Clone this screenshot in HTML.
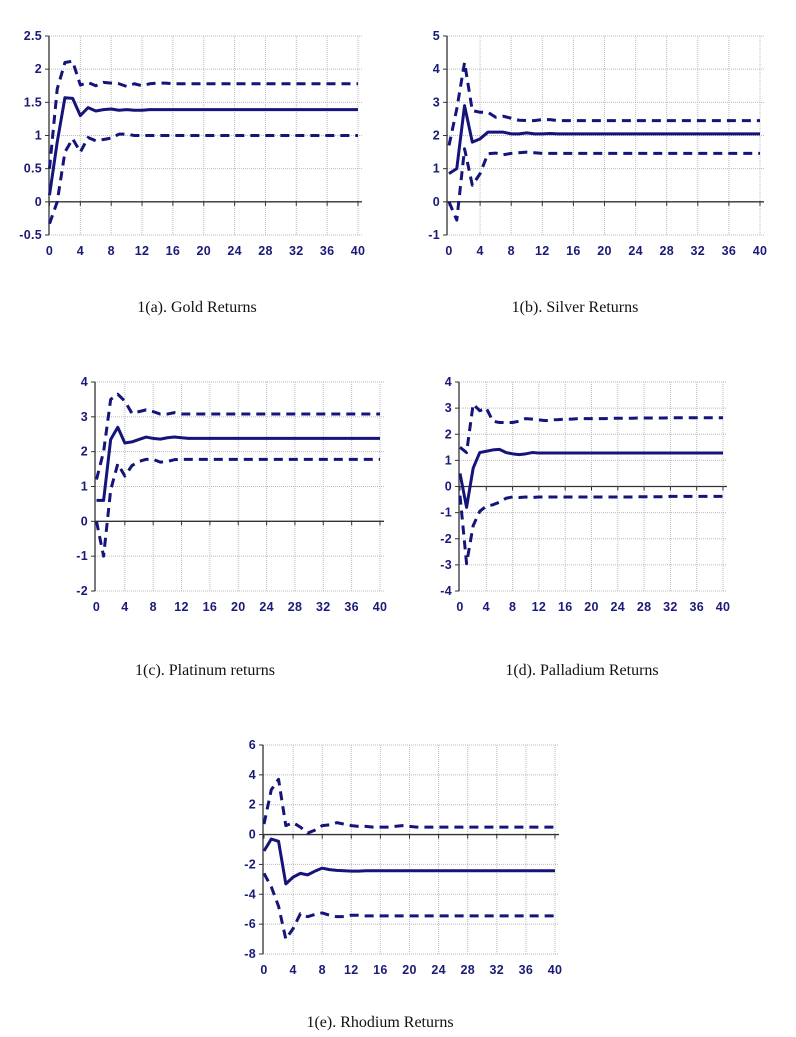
<!DOCTYPE html>
<html><head><meta charset="utf-8"><style>
html,body{margin:0;padding:0;background:#fff;}
svg{display:block;}
.tick{font-family:"Liberation Sans",sans-serif;font-weight:bold;font-size:12.5px;fill:#1a1a78;letter-spacing:0.3px;}
.title{font-family:"Liberation Serif",serif;font-size:16px;fill:#111;}
</style></head><body>
<svg id="fig" width="796" height="1037" viewBox="0 0 796 1037"></svg>
<script>
const horizon = [0,1,2,3,4,5,6,7,8,9,10,11,12,13,14,15,16,17,18,19,20,21,22,23,24,25,26,27,28,29,30,31,32,33,34,35,36,37,38,39,40];
const xTicks = [0,4,8,12,16,20,24,28,32,36,40];

const goldMid = [0.1,0.9,1.57,1.56,1.3,1.42,1.37,1.39,1.4,1.38,1.39,1.38,1.38,1.39,1.39,1.39,1.39,1.39,1.39,1.39,1.39,1.39,1.39,1.39,1.39,1.39,1.39,1.39,1.39,1.39,1.39,1.39,1.39,1.39,1.39,1.39,1.39,1.39,1.39,1.39,1.39];
const goldUp = [0.5,1.7,2.1,2.12,1.76,1.8,1.75,1.8,1.79,1.78,1.74,1.78,1.75,1.78,1.79,1.79,1.78,1.78,1.78,1.78,1.78,1.78,1.78,1.78,1.78,1.78,1.78,1.78,1.78,1.78,1.78,1.78,1.78,1.78,1.78,1.78,1.78,1.78,1.78,1.78,1.78];
const goldLo = [-0.33,0.0,0.75,0.95,0.75,0.97,0.92,0.94,0.96,1.02,1.02,1.0,1.0,1.0,1.0,1.0,1.0,1.0,1.0,1.0,1.0,1.0,1.0,1.0,1.0,1.0,1.0,1.0,1.0,1.0,1.0,1.0,1.0,1.0,1.0,1.0,1.0,1.0,1.0,1.0,1.0];
const goldTicks = [2.5,2,1.5,1,0.5,0,-0.5];

const silverMid = [0.85,1.0,2.9,1.8,1.9,2.1,2.1,2.1,2.05,2.05,2.08,2.05,2.05,2.06,2.05,2.05,2.05,2.05,2.05,2.05,2.05,2.05,2.05,2.05,2.05,2.05,2.05,2.05,2.05,2.05,2.05,2.05,2.05,2.05,2.05,2.05,2.05,2.05,2.05,2.05,2.05];
const silverUp = [1.7,2.8,4.2,2.75,2.7,2.7,2.55,2.58,2.52,2.46,2.45,2.45,2.48,2.48,2.45,2.45,2.45,2.45,2.45,2.45,2.45,2.45,2.45,2.45,2.45,2.45,2.45,2.45,2.45,2.45,2.45,2.45,2.45,2.45,2.45,2.45,2.45,2.45,2.45,2.45,2.45];
const silverLo = [0.0,-0.55,1.6,0.5,0.85,1.45,1.47,1.42,1.46,1.48,1.5,1.48,1.46,1.46,1.46,1.46,1.46,1.46,1.46,1.46,1.46,1.46,1.46,1.46,1.46,1.46,1.46,1.46,1.46,1.46,1.46,1.46,1.46,1.46,1.46,1.46,1.46,1.46,1.46,1.46,1.46];
const silverTicks = [5,4,3,2,1,0,-1];

const platMid = [0.6,0.6,2.35,2.7,2.25,2.28,2.35,2.42,2.38,2.36,2.4,2.42,2.4,2.38,2.38,2.38,2.38,2.38,2.38,2.38,2.38,2.38,2.38,2.38,2.38,2.38,2.38,2.38,2.38,2.38,2.38,2.38,2.38,2.38,2.38,2.38,2.38,2.38,2.38,2.38,2.38];
const platUp = [1.2,2.0,3.5,3.65,3.45,3.1,3.15,3.2,3.15,3.08,3.08,3.12,3.08,3.08,3.08,3.08,3.08,3.08,3.08,3.08,3.08,3.08,3.08,3.08,3.08,3.08,3.08,3.08,3.08,3.08,3.08,3.08,3.08,3.08,3.08,3.08,3.08,3.08,3.08,3.08,3.08];
const platLo = [0.0,-1.0,0.9,1.65,1.3,1.6,1.72,1.78,1.78,1.7,1.72,1.77,1.78,1.78,1.78,1.78,1.78,1.78,1.78,1.78,1.78,1.78,1.78,1.78,1.78,1.78,1.78,1.78,1.78,1.78,1.78,1.78,1.78,1.78,1.78,1.78,1.78,1.78,1.78,1.78,1.78];
const platTicks = [4,3,2,1,0,-1,-2];

const pallMid = [0.5,-0.8,0.7,1.3,1.35,1.4,1.42,1.3,1.25,1.22,1.25,1.3,1.28,1.28,1.28,1.28,1.28,1.28,1.28,1.28,1.28,1.28,1.28,1.28,1.28,1.28,1.28,1.28,1.28,1.28,1.28,1.28,1.28,1.28,1.28,1.28,1.28,1.28,1.28,1.28,1.28];
const pallUp = [1.5,1.3,3.15,2.9,3.0,2.5,2.45,2.45,2.45,2.5,2.6,2.58,2.55,2.52,2.55,2.56,2.58,2.58,2.6,2.6,2.6,2.6,2.6,2.61,2.61,2.61,2.61,2.62,2.62,2.62,2.62,2.62,2.63,2.63,2.63,2.63,2.63,2.63,2.63,2.63,2.63];
const pallLo = [-0.35,-2.95,-1.5,-0.95,-0.75,-0.7,-0.6,-0.45,-0.4,-0.42,-0.4,-0.42,-0.4,-0.4,-0.4,-0.4,-0.4,-0.4,-0.4,-0.4,-0.4,-0.4,-0.4,-0.4,-0.4,-0.4,-0.4,-0.39,-0.39,-0.39,-0.39,-0.39,-0.38,-0.38,-0.38,-0.38,-0.38,-0.38,-0.38,-0.38,-0.38];
const pallTicks = [4,3,2,1,0,-1,-2,-3,-4];

const rhoMid = [-1.1,-0.3,-0.45,-3.3,-2.85,-2.6,-2.7,-2.45,-2.25,-2.35,-2.4,-2.42,-2.45,-2.45,-2.42,-2.42,-2.42,-2.42,-2.42,-2.42,-2.42,-2.42,-2.42,-2.42,-2.42,-2.42,-2.42,-2.42,-2.42,-2.42,-2.42,-2.42,-2.42,-2.42,-2.42,-2.42,-2.42,-2.42,-2.42,-2.42,-2.42];
const rhoUp = [0.7,3.0,3.7,0.6,0.8,0.5,0.1,0.3,0.6,0.65,0.8,0.7,0.6,0.55,0.55,0.5,0.5,0.5,0.55,0.6,0.55,0.5,0.5,0.5,0.5,0.5,0.5,0.5,0.5,0.5,0.5,0.5,0.5,0.5,0.5,0.5,0.5,0.5,0.5,0.5,0.5];
const rhoLo = [-2.6,-3.5,-4.8,-7.0,-6.3,-5.3,-5.5,-5.35,-5.25,-5.4,-5.5,-5.5,-5.4,-5.4,-5.45,-5.45,-5.45,-5.45,-5.45,-5.45,-5.45,-5.45,-5.45,-5.45,-5.45,-5.45,-5.45,-5.45,-5.45,-5.45,-5.45,-5.45,-5.45,-5.45,-5.45,-5.45,-5.45,-5.45,-5.45,-5.45,-5.45];
const rhoTicks = [6,4,2,0,-2,-4,-6,-8];

const titles = ["1(a). Gold Returns","1(b). Silver Returns","1(c). Platinum returns","1(d). Palladium Returns","1(e). Rhodium Returns"];

const NS = "http://www.w3.org/2000/svg";
const svg = document.getElementById('fig');
const C = "#14147a";
function mk(tag, attrs, parent){
  const e = document.createElementNS(NS, tag);
  for (const k in attrs) e.setAttribute(k, attrs[k]);
  (parent||svg).appendChild(e);
  return e;
}

const panels = [
  {key:'gold', ax:49, x0:49.5, x40:358, top:36, bot:235, mid:goldMid, up:goldUp, lo:goldLo, ticks:goldTicks, tx:197, ty:312, title:titles[0]},
  {key:'silver', ax:447, x0:449, x40:760, top:36, bot:235, mid:silverMid, up:silverUp, lo:silverLo, ticks:silverTicks, tx:575, ty:312, title:titles[1]},
  {key:'platinum', ax:95, x0:96.5, x40:380, top:382, bot:591, mid:platMid, up:platUp, lo:platLo, ticks:platTicks, tx:205, ty:675, title:titles[2]},
  {key:'palladium', ax:459, x0:460, x40:723, top:382, bot:591, mid:pallMid, up:pallUp, lo:pallLo, ticks:pallTicks, tx:582, ty:675, title:titles[3]},
  {key:'rhodium', ax:263, x0:264, x40:555, top:745, bot:954, mid:rhoMid, up:rhoUp, lo:rhoLo, ticks:rhoTicks, tx:380, ty:1027, title:titles[4]}
];

panels.forEach(p=>{
  const g = mk('g',{});
  
  
  const ymax = p.ticks[0], ymin = p.ticks[p.ticks.length-1];
  const xs = v => p.x0 + (v-horizon[0])/(horizon[horizon.length-1]-horizon[0])*(p.x40-p.x0);
  const ys = v => p.top + (ymax-v)/(ymax-ymin)*(p.bot-p.top);
  const right = p.x40 + 4;
  p.ticks.forEach(t=>{
    const l = mk('line',{x1:p.ax,x2:right,y1:ys(t),y2:ys(t),stroke:'#bbb','stroke-width':1,'stroke-dasharray':'1 1'},g);
    
    
    const tl = mk('line',{x1:p.ax-4,x2:p.ax,y1:ys(t),y2:ys(t),stroke:'#333','stroke-width':1},g);
    
    
    const tx = mk('text',{x:p.ax-7,y:ys(t)+4,'text-anchor':'end',class:'tick'},g);
    tx.textContent = String(t);
    
    
  });
  xTicks.forEach(t=>{
    if (t>0){
      const l = mk('line',{x1:xs(t),x2:xs(t),y1:p.top,y2:p.bot,stroke:'#bbb','stroke-width':1,'stroke-dasharray':'1 1'},g);
      
      
    }
    const tm = mk('line',{x1:xs(t),x2:xs(t),y1:ys(0),y2:ys(0)+4,stroke:'#333','stroke-width':1},g);
    
    
    const tx = mk('text',{x:xs(t),y:p.bot+20,'text-anchor':'middle',class:'tick'},g);
    tx.textContent = String(t);
    
    
  });
  const yAx = mk('line',{x1:p.ax,x2:p.ax,y1:p.top,y2:p.bot,stroke:'#333','stroke-width':1.3},g);
  
  
  const xAx = mk('line',{x1:p.ax,x2:right,y1:ys(0),y2:ys(0),stroke:'#333','stroke-width':1.3},g);
  
  
  [['upper-band',p.up,'9 6'],['lower-band',p.lo,'9 6'],['impulse-response',p.mid,null]].forEach(([nm,arr,dash])=>{
    const d = arr.map((v,i)=>(i?'L':'M')+xs(horizon[i]).toFixed(2)+','+ys(v).toFixed(2)).join(' ');
    const a = {d:d,fill:'none',stroke:C,'stroke-width':3,'stroke-linejoin':'round'};
    if (dash) a['stroke-dasharray']=dash;
    const path = mk('path',a,g);
    
    
  });
  const tt = mk('text',{x:p.tx,y:p.ty,'text-anchor':'middle',class:'title'},g);
  tt.textContent = p.title;
  
  
});
</script>
</body></html>
